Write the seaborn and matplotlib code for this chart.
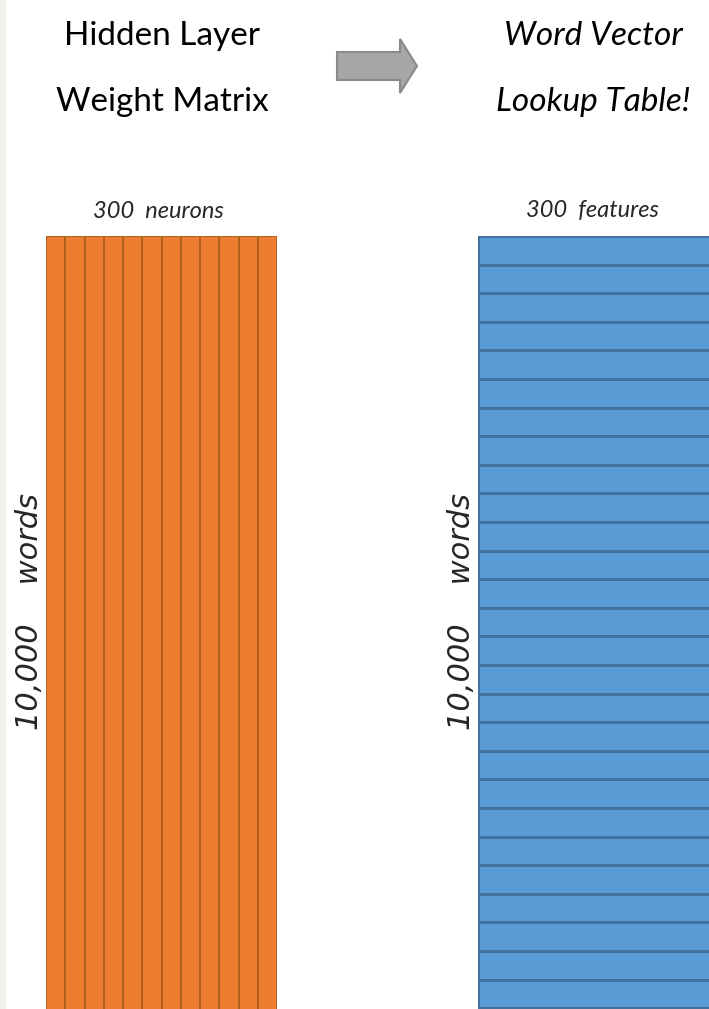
"""
Word2vec diagram: hidden layer weight matrix -> word vector lookup table
"""

import numpy as np
import matplotlib
matplotlib.use('Agg')
import matplotlib.pyplot as plt
from matplotlib.patches import FancyArrow
import seaborn as sns

# Data
left_title = ['Hidden Layer', 'Weight Matrix']
right_title = ['Word Vector', 'Lookup Table!']
left_top_label = '300  neurons'
right_top_label = '300  features'
side_label = '10,000    words'
n_neuron_cols = 12      # vertical strips drawn in the weight matrix
n_word_rows = 28        # horizontal strips drawn in the lookup table
cell_value = 1.0

W, H = 709, 1009
sns.set_theme(style='white')
plt.rcParams['font.family'] = ['Lato', 'DejaVu Sans']

fig = plt.figure(figsize=(W / 100, H / 100), dpi=100)
fig.patch.set_facecolor('white')


def px_axes(x0, y0, x1, y1):
    """Axes placed in pixel coords (origin top-left)"""
    return fig.add_axes([x0 / W, 1 - y1 / H, (x1 - x0) / W, (y1 - y0) / H])


# Background / annotation layer
bg = px_axes(0, 0, W, H)
bg.set_xlim(0, W)
bg.set_ylim(H, 0)
bg.axis('off')
bg.add_patch(plt.Rectangle((0, 0), 6, H, color='#f3f3ed', lw=0))

# Titles
for i, line in enumerate(left_title):
    bg.text(162, 36 + i * 66, line, ha='center', va='center', fontsize=24, color='black')
for i, line in enumerate(right_title):
    bg.text(593, 36 + i * 66, line, ha='center', va='center', fontsize=24,
            style='italic', color='black')

# Arrow
bg.add_patch(FancyArrow(337, 66, 63, 0, width=28, head_width=54, head_length=17,
                        length_includes_head=False, facecolor='#a6a6a6',
                        edgecolor='#8a8a8a', lw=1.5))

bg.text(158, 211, left_top_label, ha='center', va='center', fontsize=17, style='italic')
bg.text(593, 211, right_top_label, ha='center', va='center', fontsize=17, style='italic')

bg.text(30, 612, side_label, ha='center', va='center', rotation=90, fontsize=22,
        style='italic', family='DejaVu Sans')
bg.text(462, 612, side_label, ha='center', va='center', rotation=90, fontsize=22,
        style='italic', family='DejaVu Sans')

# Weight matrix (columns)
ax_l = px_axes(46, 236, 277, H + 30)
sns.heatmap(np.full((1, n_neuron_cols), cell_value), ax=ax_l,
            cmap=matplotlib.colors.ListedColormap(['#ed7d31']),
            cbar=False, linewidths=1.1, linecolor='#b1601f',
            xticklabels=False, yticklabels=False)
ax_l.axis('off')

# Lookup table (rows)
row_h = 28.6
ax_r = px_axes(478, 236, W + 12, 236 + n_word_rows * row_h)
sns.heatmap(np.full((n_word_rows, 1), cell_value), ax=ax_r,
            cmap=matplotlib.colors.ListedColormap(['#5b9bd5']),
            cbar=False, linewidths=1.8, linecolor='#41719c',
            xticklabels=False, yticklabels=False)
ax_r.axis('off')

plt.savefig('out.png', dpi=100)
plt.close()
